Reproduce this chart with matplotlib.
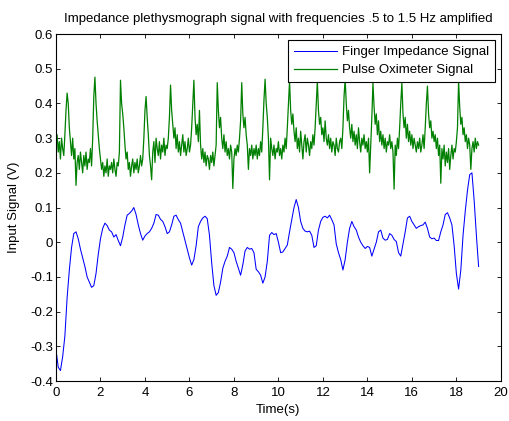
import numpy as np
import matplotlib
matplotlib.use("Agg")
import matplotlib.pyplot as plt

finger_t = np.round(np.arange(0, 191) * 0.1, 2)
finger_v = [
    -0.31, -0.36, -0.37, -0.33, -0.27, -0.16, -0.08, -0.015, 0.025, 0.03,
    0.01, -0.02, -0.045, -0.07, -0.1, -0.115, -0.13, -0.125, -0.09, -0.035,
    0.01, 0.04, 0.055, 0.048, 0.035, 0.03, 0.015, 0.022, 0.005, -0.01,
    0.015, 0.05, 0.078, 0.083, 0.09, 0.1, 0.08, 0.05, 0.025, 0.006,
    0.018, 0.025, 0.03, 0.04, 0.055, 0.08, 0.078, 0.066, 0.06, 0.045,
    0.025, 0.03, 0.05, 0.075, 0.078, 0.065, 0.055, 0.03, 0.006, -0.02,
    -0.045, -0.066, -0.05, -0.01, 0.045, 0.06, 0.07, 0.075, 0.068, 0.02,
    -0.06, -0.125, -0.153, -0.145, -0.115, -0.075, -0.055, -0.04, -0.015, -0.02,
    -0.03, -0.055, -0.075, -0.095, -0.065, -0.025, -0.015, -0.02, -0.018, -0.03,
    -0.078, -0.085, -0.095, -0.118, -0.1, -0.055, 0.02, 0.028, 0.022, 0.025,
    0.0, -0.03, -0.028, -0.018, -0.008, 0.03, 0.065, 0.1, 0.123, 0.1,
    0.06, 0.04, 0.032, 0.03, 0.032, 0.02, -0.015, -0.01, 0.035, 0.06,
    0.072, 0.075, 0.07, 0.078, 0.065, 0.05, -0.005, -0.03, -0.05, -0.08,
    -0.05, 0.0, 0.04, 0.06, 0.045, 0.035, 0.015, 0.0, -0.01, -0.018,
    -0.012, -0.015, -0.04, -0.02, 0.0, 0.03, 0.035, 0.012, 0.006, 0.008,
    0.025, 0.02, 0.008, 0.002, -0.03, -0.04, -0.005, 0.03, 0.07, 0.075,
    0.06, 0.05, 0.04, 0.045, 0.048, 0.05, 0.058, 0.04, 0.015, 0.01,
    0.012, 0.005, 0.005, 0.03, 0.05, 0.08, 0.085, 0.07, 0.05, -0.01,
    -0.09, -0.135, -0.08, 0.02, 0.09, 0.15, 0.195, 0.2, 0.12, 0.02,
    -0.07,
]

# Pulse oximeter signal, sampled every 0.05 s (one row per second)
pulse_t = np.round(np.arange(0, 381) * 0.05, 2)
pulse_v = [
    0.28, 0.31, 0.26, 0.29, 0.24, 0.30, 0.27, 0.25, 0.31, 0.38, 0.43, 0.40, 0.33, 0.29, 0.25, 0.30, 0.24, 0.27, 0.164, 0.23,
    0.25, 0.21, 0.26, 0.23, 0.20, 0.25, 0.22, 0.26, 0.21, 0.24, 0.23, 0.27, 0.22, 0.30, 0.42, 0.476, 0.40, 0.35, 0.31, 0.27,
    0.24, 0.21, 0.23, 0.19, 0.22, 0.20, 0.24, 0.19, 0.22, 0.21, 0.23, 0.20, 0.24, 0.21, 0.19, 0.23, 0.22, 0.26, 0.467, 0.40,
    0.37, 0.33, 0.28, 0.24, 0.26, 0.21, 0.23, 0.19, 0.22, 0.24, 0.20, 0.23, 0.21, 0.24, 0.20, 0.22, 0.25, 0.22, 0.24, 0.30,
    0.38, 0.42, 0.36, 0.31, 0.25, 0.22, 0.18, 0.26, 0.29, 0.23, 0.30, 0.27, 0.25, 0.29, 0.24, 0.28, 0.26, 0.30, 0.25, 0.28,
    0.27, 0.30, 0.36, 0.453, 0.38, 0.34, 0.30, 0.33, 0.27, 0.31, 0.26, 0.29, 0.25, 0.28, 0.31, 0.26, 0.29, 0.25, 0.27, 0.30,
    0.26, 0.28, 0.33, 0.40, 0.467, 0.36, 0.31, 0.34, 0.29, 0.38, 0.28, 0.24, 0.27, 0.23, 0.26, 0.22, 0.25, 0.24, 0.21, 0.25,
    0.23, 0.26, 0.22, 0.25, 0.28, 0.46, 0.38, 0.33, 0.36, 0.30, 0.27, 0.31, 0.26, 0.29, 0.25, 0.27, 0.24, 0.28, 0.26, 0.155,
    0.24, 0.27, 0.25, 0.28, 0.26, 0.30, 0.35, 0.46, 0.37, 0.33, 0.36, 0.31, 0.28, 0.21, 0.27, 0.25, 0.28, 0.24, 0.27, 0.25,
    0.28, 0.24, 0.27, 0.25, 0.29, 0.26, 0.33, 0.41, 0.47, 0.40, 0.36, 0.30, 0.18, 0.30, 0.27, 0.25, 0.28, 0.24, 0.27, 0.26,
    0.29, 0.25, 0.27, 0.24, 0.28, 0.26, 0.30, 0.27, 0.33, 0.40, 0.465, 0.38, 0.34, 0.37, 0.32, 0.29, 0.33, 0.27, 0.30, 0.26,
    0.32, 0.28, 0.24, 0.29, 0.31, 0.26, 0.30, 0.28, 0.25, 0.29, 0.27, 0.31, 0.28, 0.33, 0.40, 0.465, 0.38, 0.34, 0.36, 0.31,
    0.33, 0.29, 0.35, 0.30, 0.28, 0.31, 0.27, 0.30, 0.26, 0.29, 0.28, 0.25, 0.30, 0.27, 0.26, 0.29, 0.30, 0.27, 0.33, 0.42,
    0.47, 0.40, 0.35, 0.38, 0.33, 0.30, 0.34, 0.29, 0.32, 0.28, 0.31, 0.27, 0.33, 0.29, 0.26, 0.30, 0.28, 0.31, 0.27, 0.29,
    0.26, 0.30, 0.20, 0.28, 0.36, 0.46, 0.39, 0.34, 0.37, 0.31, 0.35, 0.29, 0.32, 0.28, 0.31, 0.27, 0.30, 0.26, 0.29, 0.28,
    0.31, 0.27, 0.29, 0.26, 0.153, 0.28, 0.25, 0.30, 0.27, 0.33, 0.40, 0.46, 0.37, 0.33, 0.36, 0.30, 0.34, 0.29, 0.32, 0.28,
    0.31, 0.27, 0.30, 0.28, 0.26, 0.29, 0.27, 0.30, 0.26, 0.28, 0.31, 0.27, 0.33, 0.40, 0.45, 0.37, 0.33, 0.35, 0.30, 0.32,
    0.29, 0.31, 0.27, 0.30, 0.25, 0.28, 0.17, 0.27, 0.24, 0.28, 0.22, 0.26, 0.23, 0.27, 0.21, 0.25, 0.28, 0.24, 0.27, 0.26,
    0.29, 0.33, 0.465, 0.39, 0.34, 0.36, 0.31, 0.33, 0.29, 0.31, 0.27, 0.30, 0.28, 0.21, 0.27, 0.29, 0.26, 0.30, 0.27, 0.29,
    0.28,
]

x_ticks = list(range(0, 21, 2))
y_ticks = [-0.4, -0.3, -0.2, -0.1, 0, 0.1, 0.2, 0.3, 0.4, 0.5, 0.6]
y_tick_labels = ["-0.4", "-0.3", "-0.2", "-0.1", "0", "0.1", "0.2", "0.3", "0.4", "0.5", "0.6"]

plt.rcParams["font.family"] = ["Liberation Sans", "DejaVu Sans"]
FS = 9.5

fig = plt.figure(figsize=(5.09, 4.21), dpi=100)
ax = fig.add_axes([0.110, 0.095, 0.874, 0.824])

ax.plot(finger_t, finger_v, color=(0, 0, 1), lw=0.75, label="Finger Impedance Signal")
ax.plot(pulse_t, pulse_v, color=(0, 0.5, 0), lw=0.9, label="Pulse Oximeter Signal")

ax.set_xlim(0, 20)
ax.set_ylim(-0.4, 0.6)
ax.set_xticks(x_ticks)
ax.set_yticks(y_ticks)
ax.set_yticklabels(y_tick_labels)
ax.tick_params(direction="in", top=True, right=True, length=3, width=0.6, labelsize=FS)
ax.tick_params(axis="x", pad=4)
ax.tick_params(axis="y", pad=2)
for sp in ax.spines.values():
    sp.set_linewidth(0.8)

ax.set_title("Impedance plethysmograph signal with frequencies .5 to 1.5 Hz amplified",
             fontsize=FS, pad=9)
ax.set_xlabel("Time(s)", fontsize=FS, labelpad=4)
ax.set_ylabel("Input Signal (V)", fontsize=FS, labelpad=7)

leg = ax.legend(loc="upper right", fontsize=FS, fancybox=False, framealpha=1,
                edgecolor="black", borderaxespad=0.45, handlelength=3.2,
                handletextpad=0.4, borderpad=0.45, labelspacing=0.45)
leg.get_frame().set_linewidth(0.8)

fig.savefig("out.png", dpi=100)
